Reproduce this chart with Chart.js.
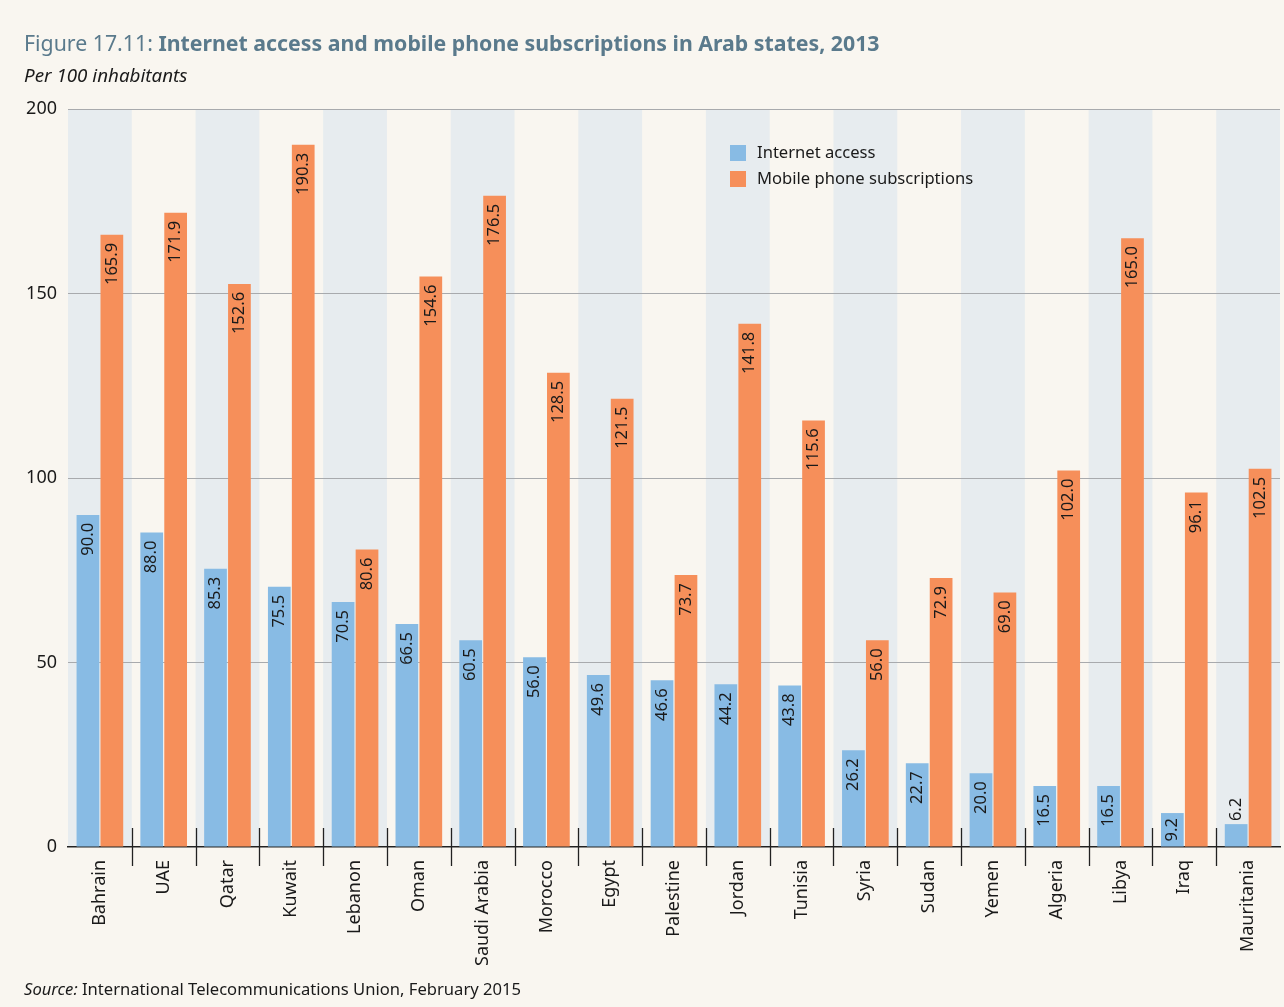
<!DOCTYPE html>
<html lang="en">
<head>
<meta charset="utf-8">
<title>Figure 17.11</title>
<script src="https://cdn.jsdelivr.net/npm/chart.js@4.4.1/dist/chart.umd.min.js"></script>
<style>
  body { margin: 0; background: #f9f6f0; font-family: "Noto Sans", sans-serif; }
  #wrap { position: relative; width: 1284px; height: 1007px; overflow: hidden; }
  canvas { position: absolute; left: 0; top: 0; }
  .txt { position: absolute; white-space: nowrap; color: #1a1a1a; line-height: 1; }
  #title { left: 24px; top: 32px; font-size: 21.3px; color: #5a7a8c; }
  #title b { font-weight: 700; }
  #sub { left: 24px; top: 66px; font-size: 18.8px; font-style: italic; }
  #source { left: 24px; top: 981px; font-size: 16.6px; }
  #legend { left: 730px; top: 144px; font-size: 16.6px; }
  #legend div { height: 26px; display: flex; align-items: flex-start; }
  #legend span { display: inline-block; width: 16px; height: 16px; margin-top: 1px; margin-right: 11px; }
</style>
</head>
<body>
<div id="wrap">
  <canvas id="myChart" width="1284" height="1007"></canvas>
  <div class="txt" id="title">Figure 17.11: <b>Internet access and mobile phone subscriptions in Arab states, 2013</b></div>
  <div class="txt" id="sub">Per 100 inhabitants</div>
  <div class="txt" id="legend">
    <div><span style="background:#88bbe4"></span>Internet access</div>
    <div><span style="background:#f68f5a"></span>Mobile phone subscriptions</div>
  </div>
  <div class="txt" id="source"><i>Source:</i> International Telecommunications Union, February 2015</div>
</div>
<script>
  // data
  var countries = ['Bahrain', 'UAE', 'Qatar', 'Kuwait', 'Lebanon', 'Oman', 'Saudi Arabia', 'Morocco',
    'Egypt', 'Palestine', 'Jordan', 'Tunisia', 'Syria', 'Sudan', 'Yemen', 'Algeria', 'Libya', 'Iraq', 'Mauritania'];
  // bar heights as drawn
  var internet = [90.0, 85.2, 75.4, 70.5, 66.4, 60.4, 56.0, 51.4, 46.6, 45.2, 44.1, 43.8, 26.2, 22.7, 20.0, 16.5, 16.5, 9.2, 6.2];
  var mobile = [165.9, 171.9, 152.6, 190.3, 80.6, 154.6, 176.5, 128.5, 121.5, 73.7, 141.8, 115.6, 56.0, 72.9, 69.0, 102.0, 165.0, 96.1, 102.5];
  // value labels as printed on the bars
  var internetLabels = ['90.0', '88.0', '85.3', '75.5', '70.5', '66.5', '60.5', '56.0', '49.6', '46.6', '44.2', '43.8', '26.2', '22.7', '20.0', '16.5', '16.5', '9.2', '6.2'];
  var mobileLabels = ['165.9', '171.9', '152.6', '190.3', '80.6', '154.6', '176.5', '128.5', '121.5', '73.7', '141.8', '115.6', '56.0', '72.9', '69.0', '102.0', '165.0', '96.1', '102.5'];
  var yTicks = [0, 50, 100, 150, 200];

  var pageColor = '#f9f6f0';
  var bandColor = '#e7ecef';
  var fontName = '"Noto Sans", sans-serif';

  var backdrop = {
    id: 'backdrop',
    beforeDraw: function (chart) {
      var ctx = chart.ctx, a = chart.chartArea, x = chart.scales.x;
      var step = x.width / countries.length;
      ctx.save();
      ctx.fillStyle = pageColor;
      ctx.fillRect(0, 0, chart.width, chart.height);
      ctx.fillStyle = bandColor;
      for (var i = 0; i < countries.length; i += 2) {
        var cx = x.getPixelForValue(i);
        ctx.fillRect(cx - step / 2, a.top, step, a.bottom - a.top);
      }
      ctx.restore();
    },
    afterDatasetsDraw: function (chart) {
      var ctx = chart.ctx, a = chart.chartArea, x = chart.scales.x;
      ctx.save();
      // separators between countries
      ctx.strokeStyle = '#222';
      ctx.lineWidth = 1.3;
      for (var i = 1; i < countries.length; i++) {
        var bx = Math.round((x.getPixelForValue(i - 1) + x.getPixelForValue(i)) / 2) + 0.5;
        ctx.beginPath();
        ctx.moveTo(bx, a.bottom - 19);
        ctx.lineTo(bx, a.bottom + 19);
        ctx.stroke();
      }
      // value labels
      var sets = [internetLabels, mobileLabels];
      ctx.font = '16.5px ' + fontName;
      ctx.fillStyle = '#1a1a1a';
      ctx.textBaseline = 'middle';
      sets.forEach(function (labels, di) {
        chart.getDatasetMeta(di).data.forEach(function (bar, i) {
          var txt = labels[i];
          var w = ctx.measureText(txt).width;
          var h = bar.base - bar.y;
          ctx.save();
          if (h >= w + 8) {
            ctx.translate(bar.x, bar.y + Math.min(8, (h - w) / 2));
            ctx.rotate(-Math.PI / 2);
            ctx.textAlign = 'right';
          } else {
            ctx.translate(bar.x, bar.y - 3);
            ctx.rotate(-Math.PI / 2);
            ctx.textAlign = 'left';
          }
          ctx.fillText(txt, 0, 0);
          ctx.restore();
        });
      });
      ctx.restore();
    }
  };

  var ctx = document.getElementById('myChart').getContext('2d');
  var chart = new Chart(ctx, {
    type: 'bar',
    data: {
      labels: countries,
      datasets: [{
        label: 'Internet access',
        data: internet,
        backgroundColor: '#88bbe4',
        barPercentage: 0.95,
        categoryPercentage: 0.75
      }, {
        label: 'Mobile phone subscriptions',
        data: mobile,
        backgroundColor: '#f68f5a',
        barPercentage: 0.95,
        categoryPercentage: 0.75
      }]
    },
    options: {
      responsive: false,
      animation: false,
      layout: { padding: { top: 109, right: 4, left: 0, bottom: 0 } },
      plugins: {
        legend: { display: false },
        tooltip: { enabled: false }
      },
      scales: {
        x: {
          grid: { display: false },
          border: { display: true, color: '#222', width: 1.5 },
          ticks: {
            autoSkip: false,
            minRotation: 90,
            maxRotation: 90,
            padding: 5,
            color: '#1a1a1a',
            font: { family: fontName, size: 18 }
          },
          afterFit: function (scale) { scale.height = 160; }
        },
        y: {
          min: 0,
          max: 200,
          afterBuildTicks: function (scale) {
            scale.ticks = yTicks.map(function (v) { return { value: v }; });
          },
          grid: {
            drawTicks: false,
            color: function (c) { return c.tick && c.tick.value === 0 ? 'rgba(0,0,0,0)' : '#a8aaad'; },
            lineWidth: 1
          },
          border: { display: false },
          ticks: {
            padding: 11,
            color: '#1a1a1a',
            font: { family: fontName, size: 18 }
          },
          afterFit: function (scale) { scale.width = 68; }
        }
      }
    },
    plugins: [backdrop]
  });
</script>
</body>
</html>
